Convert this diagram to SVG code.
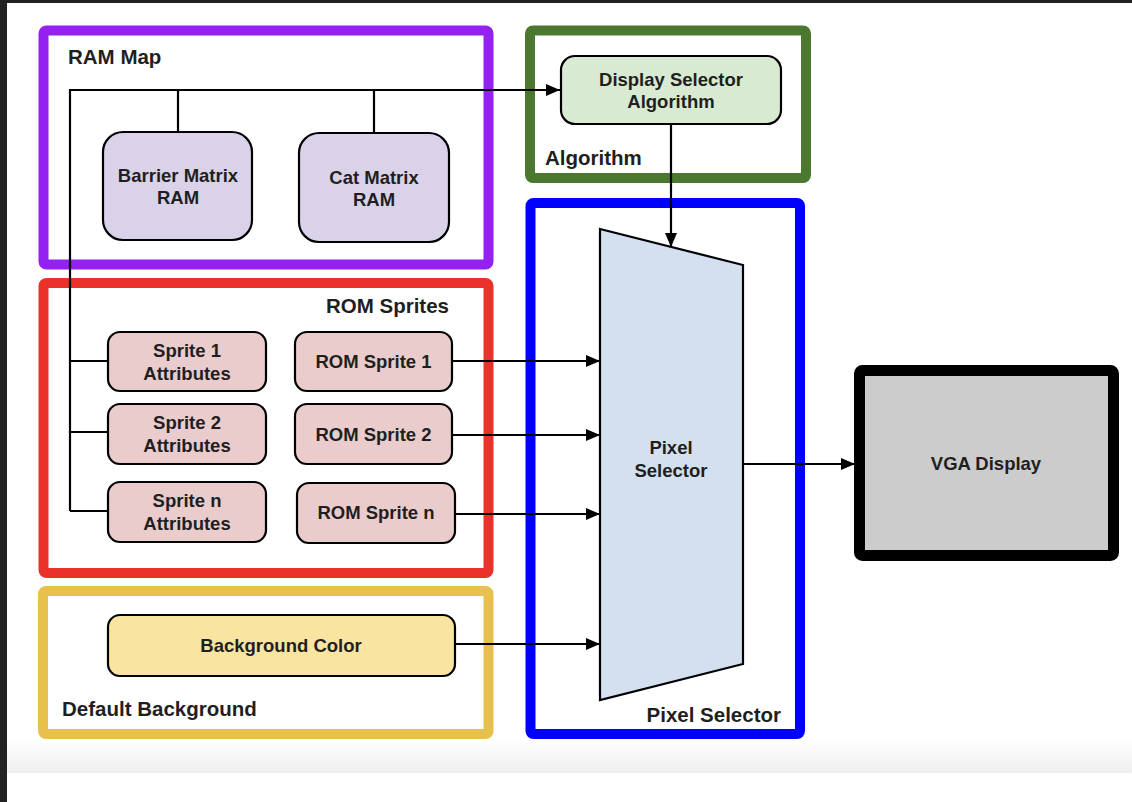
<svg xmlns="http://www.w3.org/2000/svg" width="1132" height="802" viewBox="0 0 1132 802">
<defs>
<linearGradient id="band" x1="0" y1="0" x2="0" y2="1">
<stop offset="0" stop-color="#ffffff"/>
<stop offset="1" stop-color="#eeeeee"/>
</linearGradient>
<marker id="arr" markerUnits="userSpaceOnUse" markerWidth="14" markerHeight="12" refX="14" refY="6" orient="auto">
<path d="M0,0 L14,6 L0,12 z" fill="#000"/>
</marker>
</defs>
<style>
.grp{fill:#fff;stroke-width:10}
.node{stroke:#000;stroke-width:2.2}
.t{font-family:"Liberation Sans",Arial,sans-serif;font-weight:bold;fill:#1f1f1f}
.n{font-size:18.5px;text-anchor:middle}
.l{font-size:20.5px}
.c{fill:none;stroke:#000;stroke-width:2.2}
</style>
<rect x="0" y="0" width="1132" height="802" fill="#fff"/>
<rect x="7" y="740" width="1125" height="33" fill="url(#band)"/>
<rect x="0" y="0" width="1132" height="3" fill="#222"/>
<rect x="0" y="0" width="7" height="802" fill="#222"/>

<g id="ram-map">
<rect class="grp" x="43.5" y="30.5" width="445" height="234" rx="3" stroke="#9321f2"/>
<text class="t l" x="68" y="64">RAM Map</text>
</g>
<g id="algorithm">
<rect class="grp" x="530" y="30.5" width="276" height="147.5" rx="3" stroke="#4b772f"/>
<text class="t l" x="545" y="165">Algorithm</text>
</g>
<g id="rom-sprites">
<rect class="grp" x="43.5" y="283" width="445" height="290" rx="3" stroke="#e8322a"/>
<text class="t l" x="449" y="313" text-anchor="end">ROM Sprites</text>
</g>
<g id="default-background">
<rect class="grp" x="43" y="591" width="445.5" height="143" rx="3" stroke="#e8c04e"/>
<text class="t l" x="62" y="716">Default Background</text>
</g>
<g id="pixel-selector-group">
<rect class="grp" x="530.5" y="203" width="269.5" height="531" rx="3" stroke="#0000ff"/>
<text class="t l" x="781" y="722" text-anchor="end">Pixel Selector</text>
</g>

<g id="connectors">
<path class="c" d="M70,511 V90 H560" marker-end="url(#arr)"/>
<path class="c" d="M178,90 V132"/>
<path class="c" d="M374,90 V133"/>
<path class="c" d="M70,361 H108"/>
<path class="c" d="M70,432 H108"/>
<path class="c" d="M70,511 H108"/>
<path class="c" d="M452,361 H600" marker-end="url(#arr)"/>
<path class="c" d="M452,435 H600" marker-end="url(#arr)"/>
<path class="c" d="M455,514 H600" marker-end="url(#arr)"/>
<path class="c" d="M455,644 H600" marker-end="url(#arr)"/>
<path class="c" d="M671,124 V247" marker-end="url(#arr)"/>
<path class="c" d="M743,464 H855" marker-end="url(#arr)"/>
</g>

<g id="barrier-matrix-ram">
<rect class="node" x="103" y="132" width="149" height="108" rx="20" fill="#d9d2e9"/>
<text class="t n" x="178" y="182">Barrier Matrix</text>
<text class="t n" x="178" y="204">RAM</text>
</g>
<g id="cat-matrix-ram">
<rect class="node" x="299" y="133" width="150" height="109" rx="20" fill="#d9d2e9"/>
<text class="t n" x="374" y="184">Cat Matrix</text>
<text class="t n" x="374" y="206">RAM</text>
</g>
<g id="display-selector-algorithm">
<rect class="node" x="561" y="56" width="220" height="68" rx="14" fill="#d9ead3"/>
<text class="t n" x="671" y="86">Display Selector</text>
<text class="t n" x="671" y="108">Algorithm</text>
</g>
<g id="sprite1-attributes">
<rect class="node" x="108" y="332" width="158" height="59" rx="12" fill="#eacccc"/>
<text class="t n" x="187" y="357">Sprite 1</text>
<text class="t n" x="187" y="380">Attributes</text>
</g>
<g id="sprite2-attributes">
<rect class="node" x="108" y="404" width="158" height="60" rx="12" fill="#eacccc"/>
<text class="t n" x="187" y="429">Sprite 2</text>
<text class="t n" x="187" y="452">Attributes</text>
</g>
<g id="spriten-attributes">
<rect class="node" x="108" y="482" width="158" height="60" rx="12" fill="#eacccc"/>
<text class="t n" x="187" y="507">Sprite n</text>
<text class="t n" x="187" y="530">Attributes</text>
</g>
<g id="rom-sprite1">
<rect class="node" x="295" y="332" width="157" height="59" rx="12" fill="#eacccc"/>
<text class="t n" x="373.5" y="368">ROM Sprite 1</text>
</g>
<g id="rom-sprite2">
<rect class="node" x="295" y="404" width="157" height="60" rx="12" fill="#eacccc"/>
<text class="t n" x="373.5" y="441">ROM Sprite 2</text>
</g>
<g id="rom-spriten">
<rect class="node" x="297" y="483" width="158" height="60" rx="12" fill="#eacccc"/>
<text class="t n" x="376" y="519">ROM Sprite n</text>
</g>
<g id="background-color">
<rect class="node" x="108" y="615" width="347" height="61" rx="12" fill="#f9e4a1"/>
<text class="t n" x="281" y="652">Background Color</text>
</g>
<g id="pixel-selector">
<polygon class="node" points="600,229 743,265 743,664 600,700" fill="#d3e0f0"/>
<text class="t n" x="671" y="454">Pixel</text>
<text class="t n" x="671" y="477">Selector</text>
</g>
<g id="vga-display">
<rect x="859.5" y="370.5" width="254" height="185" rx="3" fill="#cccccc" stroke="#000" stroke-width="11"/>
<text class="t n" x="986" y="470">VGA Display</text>
</g>
</svg>
